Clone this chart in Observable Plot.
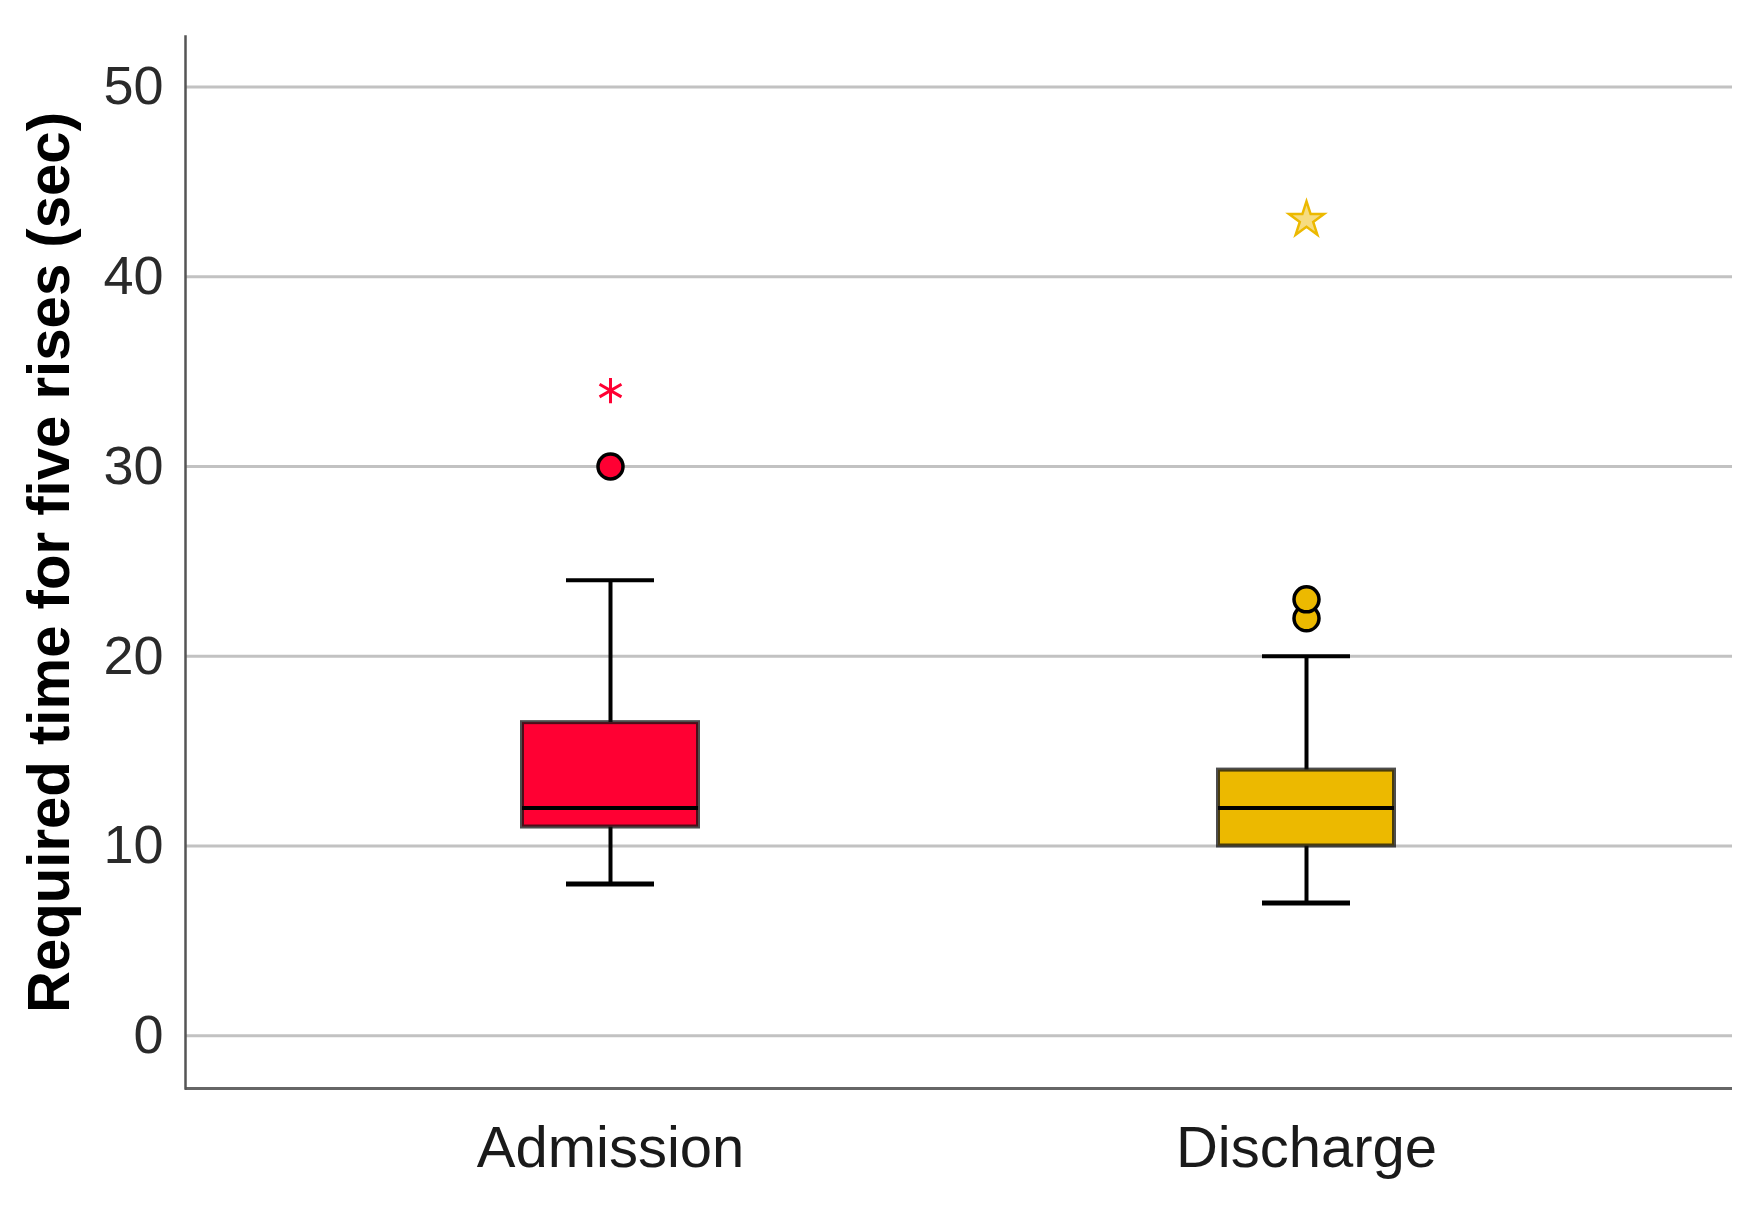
<!DOCTYPE html>
<html>
<head>
<meta charset="utf-8">
<script src="https://cdn.jsdelivr.net/npm/d3@7"></script>
<script src="https://cdn.jsdelivr.net/npm/@observablehq/plot@0.6"></script>
<style>
  html, body { margin: 0; padding: 0; background: #fff; }
</style>
</head>
<body>
<div id="chart"></div>
<script>
const groups = ["Admission", "Discharge"];
const boxColors = ["#ff0033", "#ecb900"];
const lowWhisker = [8, 7];
const q1 = [11, 10];
const median = [12, 12];
const q3 = [16.5, 14];
const highWhisker = [24, 20];
const outlierGroup = ["Admission", "Discharge", "Discharge"];
const outlierValue = [30, 22, 23];
const extremeGroup = ["Admission", "Discharge"];
const extremeValue = [34, 43];
const yTicks = [0, 10, 20, 30, 40, 50];
const yDomain = [-2.78, 52.66];
const yLabel = "Required time for five rises (sec)";

const boxes = groups.map((g, i) => ({
  group: g, lo: lowWhisker[i], q1: q1[i], med: median[i], q3: q3[i], hi: highWhisker[i]
}));
const outliers = outlierGroup.map((g, i) => ({group: g, value: outlierValue[i]}));
const extremes = extremeGroup.map((g, i) => ({group: g, value: extremeValue[i]}));

const font = "'Liberation Sans', Arial, sans-serif";

const chart = Plot.plot({
  width: 1758,
  height: 1209,
  marginLeft: 185,
  marginRight: 26,
  marginTop: 36,
  marginBottom: 121,
  style: {background: "white", fontFamily: font},
  x: {domain: groups, paddingInner: 0.747, paddingOuter: 0.4846, axis: null},
  y: {domain: yDomain, axis: null},
  color: {domain: groups, range: boxColors},
  marks: [
    Plot.gridY(yTicks, {stroke: "#c2c2c2", strokeOpacity: 1, strokeWidth: 3}),
    Plot.ruleY([yDomain[0]], {stroke: "#666", strokeWidth: 3}),
    Plot.frame({anchor: "left", stroke: "#555", strokeWidth: 2.5}),
    Plot.axisY(yTicks, {tickSize: 0, tickPadding: 22, fontSize: 54, fill: "#2a2a2a", label: null}),
    Plot.axisX({tickSize: 0, tickPadding: 37, fontSize: 58, fill: "#1a1a1a", label: null}),
    Plot.ruleX(boxes, {x: "group", y1: "lo", y2: "q1", stroke: "#000", strokeWidth: 4}),
    Plot.ruleX(boxes, {x: "group", y1: "q3", y2: "hi", stroke: "#000", strokeWidth: 4}),
    Plot.tickY(boxes, {x: "group", y: "lo", stroke: "#000", strokeWidth: 5, insetLeft: 44, insetRight: 44}),
    Plot.tickY(boxes, {x: "group", y: "hi", stroke: "#000", strokeWidth: 4, insetLeft: 44, insetRight: 44}),
    Plot.barY(boxes, {x: "group", y1: "q1", y2: "q3", fill: "group", stroke: "#111", strokeOpacity: 0.75, strokeWidth: 4}),
    Plot.tickY(boxes, {x: "group", y: "med", stroke: "#000", strokeWidth: 4}),
    Plot.dot(outliers, {x: "group", y: "value", fill: "group", stroke: "#000", strokeWidth: 3.5, r: 12.5}),
    Plot.dot(extremes.filter(d => d.group === "Admission"), {x: "group", y: "value", symbol: "asterisk", stroke: "group", strokeWidth: 3, r: 12}),
    Plot.dot(extremes.filter(d => d.group === "Discharge"), {x: "group", y: "value", symbol: "star", stroke: "group", fill: "#f6dc80", strokeWidth: 2.5, r: 11}),
    Plot.text([yLabel], {frameAnchor: "left", textAnchor: "middle", rotate: -90, dx: -117, lineAnchor: "bottom", fontSize: 60, fontWeight: "bold", fill: "#000"})
  ]
});

chart.querySelectorAll("text").forEach(t => {
  if (t.textContent === yLabel) {
    t.setAttribute("textLength", "901");
    t.setAttribute("lengthAdjust", "spacingAndGlyphs");
  }
});

document.getElementById("chart").appendChild(chart);
</script>
</body>
</html>
